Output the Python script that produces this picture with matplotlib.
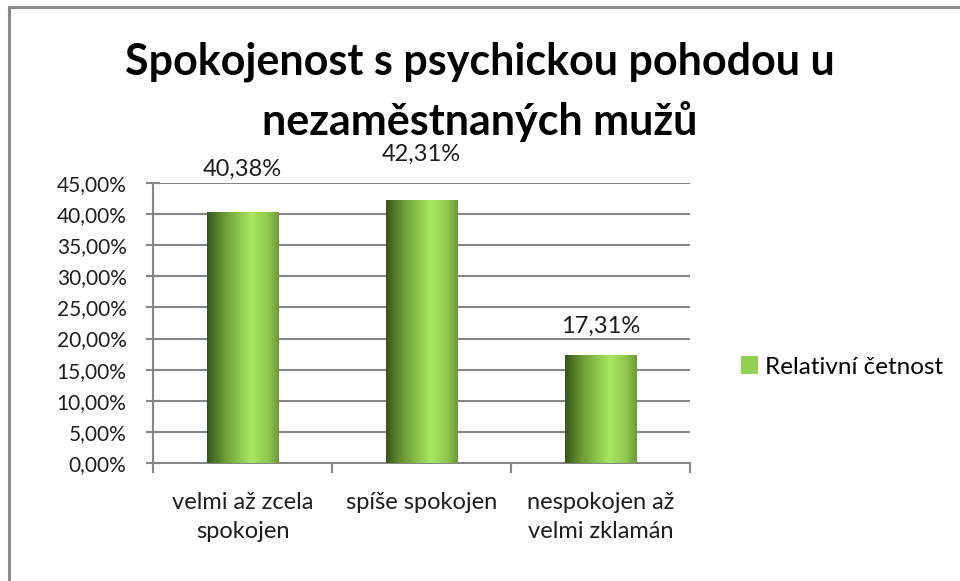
import numpy as np
import matplotlib
matplotlib.use("Agg")
import matplotlib.pyplot as plt
from matplotlib.colors import LinearSegmentedColormap
from matplotlib.lines import Line2D
from matplotlib.patches import Rectangle

plt.rcParams['font.family'] = ['Lato', 'Open Sans', 'DejaVu Sans']

title = "Spokojenost s psychickou pohodou u\nnezaměstnaných mužů"
categories = ["velmi až zcela\nspokojen", "spíše spokojen", "nespokojen až\nvelmi zklamán"]
values = [40.38, 42.31, 17.31]
value_labels = ["40,38%", "42,31%", "17,31%"]
series_name = "Relativní četnost"
yticks = [0, 5, 10, 15, 20, 25, 30, 35, 40, 45]
ytick_labels = ["0,00%", "5,00%", "10,00%", "15,00%", "20,00%", "25,00%",
                "30,00%", "35,00%", "40,00%", "45,00%"]
label_offsets_pt = [23, 25, 13]

W, H = 960, 581
fig = plt.figure(figsize=(W / 100, H / 100), dpi=100)
fig.patch.set_facecolor("white")

grey = "#868686"
txt = "#1e1e1e"
fs = 17
# top & left frame of chart area
fig.add_artist(Line2D([9 / W, 1], [1 - 7 / H, 1 - 7 / H], color="#8a8a8a", lw=2.2))
fig.add_artist(Line2D([9 / W, 9 / W], [0, 1 - 7 / H], color="#8a8a8a", lw=2.2))

ax = fig.add_axes([153 / W, 1 - 463 / H, (690 - 153) / W, (463 - 183) / H])
ax.set_xlim(-0.5, 2.5)
ax.set_ylim(0, 45)

for y in yticks[1:]:
    ax.axhline(y, color=grey, lw=1.5, zorder=1)

cmap = LinearSegmentedColormap.from_list(
    "cyl", [(0.0, "#36561a"), (0.25, "#6e9e36"), (0.62, "#a8e862"), (0.85, "#90c850"), (1.0, "#6e9a38")])
grad = np.linspace(0, 1, 256).reshape(1, -1)

bw = 0.4
x = np.arange(len(categories))
bars = ax.bar(x, values, width=bw, color="#92d050", zorder=2, label=series_name)
for b in bars:
    x0, y0 = b.get_x(), b.get_y()
    w, h = b.get_width(), b.get_height()
    im = ax.imshow(grad, cmap=cmap, aspect="auto", extent=[x0, x0 + w, y0, y0 + h],
                   zorder=3, interpolation="bicubic")
    clip = Rectangle((x0, y0), w, h, transform=ax.transData)
    im.set_clip_path(clip)
ax.set_xlim(-0.5, 2.5)
ax.set_ylim(0, 45)

for xi, v, lab, off in zip(x, values, value_labels, label_offsets_pt):
    ax.annotate(lab, (xi, v), xytext=(0, off), textcoords="offset points",
                ha="center", va="bottom", fontsize=fs, color=txt)

for s in ["top", "right"]:
    ax.spines[s].set_visible(False)
ax.spines["left"].set_color(grey)
ax.spines["bottom"].set_color(grey)
ax.spines["left"].set_linewidth(1.5)
ax.spines["bottom"].set_linewidth(1.5)

ax.set_yticks(yticks)
ax.set_yticklabels(ytick_labels, fontsize=15, color=txt)
ax.tick_params(axis="y", direction="inout", length=10, width=1.5, color=grey, pad=14)

ax.set_xticks([-0.5, 0.5, 1.5, 2.5])
ax.set_xticklabels([])
ax.tick_params(axis="x", which="major", direction="out", length=7, width=1.5, color=grey)
ax.set_xticks(x, minor=True)
ax.set_xticklabels(categories, minor=True, fontsize=fs, color=txt, linespacing=1.45)
ax.tick_params(axis="x", which="minor", length=0, pad=21)

fig.text(480 / W, 1 - 92 / H, title, ha="center", va="center", fontsize=31,
         fontweight="bold", linespacing=1.55, color="black")

handle = Rectangle((0, 0), 1, 1, facecolor="#92d050", edgecolor="none")
fig.legend([handle], [series_name], loc="center left", bbox_to_anchor=(741 / W, 1 - 367 / H),
           frameon=False, fontsize=17.5, handlelength=0.7, handleheight=0.7,
           handletextpad=0.3, borderpad=0, borderaxespad=0)

fig.savefig("out.png", dpi=100, facecolor="white")
